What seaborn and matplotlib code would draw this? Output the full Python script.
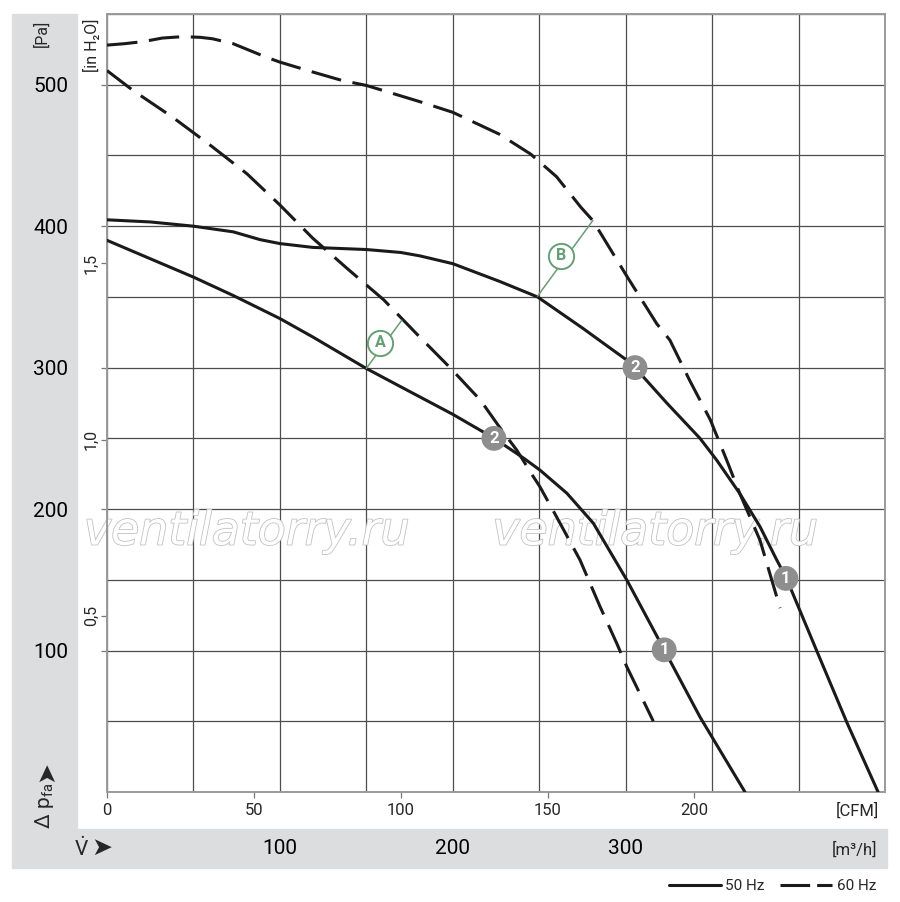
import numpy as np
import pandas as pd
import seaborn as sns
import matplotlib.pyplot as plt
import matplotlib.patheffects as pe
from matplotlib.lines import Line2D
from matplotlib.patches import Rectangle

# Curve values: flow in m3/h, static pressure in Pa
q50_hi = [0, 25, 50, 73, 88.5, 100, 119, 150, 170, 181, 200, 227, 249, 275, 301, 305.4, 324, 343,
          352.6, 366, 377.7, 387.4, 393, 411, 428, 446]
p50_hi = [404.5, 403, 400, 396, 390.5, 387.7, 385, 383.5, 381.4, 379, 373.5, 361, 350, 328, 305,
          300, 274.7, 250, 234.7, 211, 187.6, 164, 151, 98.4, 49, 0]

q50_lo = [0, 50, 73, 100, 119, 150, 170, 200, 224, 241, 250.4, 266, 281.3, 300.6, 312, 322.3, 343,
          369]
p50_lo = [390, 364, 351, 334.7, 321.7, 299.4, 286.4, 267, 250, 236, 227.6, 211.2, 190, 150, 124,
          100.5, 53, 0]

q60_hi = [0, 10, 21, 32, 44, 54, 61, 73, 92, 100, 119, 136, 150, 181, 200, 227, 245, 260, 274,
          281, 301, 318, 325.6, 337, 349, 358.4, 366, 377.7, 389.3]
p60_hi = [528, 529, 530.5, 533, 534, 533.5, 532.5, 529, 519.5, 516, 509, 503, 499.5, 488, 480.5,
          465, 451, 435, 413.5, 404, 364, 331, 319.4, 291, 263, 234.7, 211, 178, 130]

q60_lo = [0, 15, 38, 60, 81, 100, 119, 139, 160, 179, 198, 216, 227, 237, 246.6, 250.4, 260, 273.6,
          285.2, 294.8, 300.6, 316]
p60_lo = [510, 496, 477, 457, 437, 415, 391.5, 370, 348, 324, 300.5, 277, 258, 241.7, 222.9, 215.8,
          194.6, 164, 131, 105.2, 88.7, 50]

# operating points (grey badges)
badge_q = [305.4, 392.7, 223.8, 322.3]
badge_p = [300, 151, 250, 100.5]
badge_txt = ['2', '1', '2', '1']

# green callouts A / B: (start on 50 Hz curve, end on 60 Hz curve, circle centre)
callout_txt = ['A', 'B']
callout_q = [[150, 170.5], [249, 281]]
callout_p = [[299.5, 333.5], [350.5, 404]]
callout_cq = [158, 262.5]
callout_cp = [317.5, 379]

pa_ticks = [100, 200, 300, 400, 500]
m3h_ticks = [100, 200, 300]
cfm_ticks = [0, 50, 100, 150, 200]
inh2o_ticks = [0.5, 1.0, 1.5]
inh2o_labels = ['0,5', '1,0', '1,5']

sns.set_theme(style='white')
plt.rcParams['font.family'] = ['Roboto', 'DejaVu Sans']
plt.rcParams['mathtext.fontset'] = 'custom'
plt.rcParams['mathtext.rm'] = 'Roboto'
plt.rcParams['mathtext.it'] = 'Roboto'

W, H = 900, 902
fig = plt.figure(figsize=(9, 9.02), dpi=100, facecolor='white')

# grey bands on the left and bottom
band = '#dcdddf'
fig.add_artist(Rectangle((12 / W, 1 - 829 / H), 65 / W, 815 / H, transform=fig.transFigure,
                         color=band, zorder=0))
fig.add_artist(Rectangle((12 / W, 1 - 868 / H), 875 / W, 39 / H, transform=fig.transFigure,
                         color=band, zorder=0))

ax = fig.add_axes([107 / W, 1 - 792 / H, 778 / W, 778 / H])
ax.set_facecolor('white')

ink = '#1a1a1a'
dash = (0, (10, 3.8))
for q, p, ls in [(q50_hi, p50_hi, '-'), (q50_lo, p50_lo, '-'),
                 (q60_hi, p60_hi, dash), (q60_lo, p60_lo, dash)]:
    df = pd.DataFrame({'q': q, 'p': p})
    sns.lineplot(data=df, x='q', y='p', ax=ax, sort=False, estimator=None,
                 color=ink, lw=2.2, linestyle=ls, zorder=3)

# green callouts
green = '#63a072'
for txt, qq, pp, cq, cp in zip(callout_txt, callout_q, callout_p, callout_cq, callout_cp):
    ax.plot(qq, pp, color=green, lw=1.1, zorder=4)
    ax.scatter([cq], [cp], s=330, facecolor='white', edgecolor=green, linewidth=1.4, zorder=5)
    ax.text(cq, cp, txt, color=green, ha='center', va='center', fontsize=11.5,
            fontweight='bold', zorder=6)

# grey numbered badges
sns.scatterplot(x=badge_q, y=badge_p, ax=ax, s=320, color='#8e8e8e', edgecolor='none',
                zorder=6, legend=False)
for q, p, t in zip(badge_q, badge_p, badge_txt):
    ax.text(q, p, t, color='white', ha='center', va='center', fontsize=12,
            fontweight='bold', zorder=7)

# watermark
for xf in [0.180, 0.705]:
    ax.text(xf, 0.318, 'ventilatorry.ru', transform=ax.transAxes, ha='center', va='baseline',
            fontsize=33, style='italic', family='DejaVu Sans', color='white', zorder=2,
            path_effects=[pe.Stroke(linewidth=1.2, foreground='#c2c2c2'), pe.Normal()])

ax.set_xlim(0, 450)
ax.set_ylim(0, 550)
ax.set_xticks(m3h_ticks)
ax.set_xticks(np.arange(0, 451, 50), minor=True)
ax.set_yticks(pa_ticks)
ax.set_yticks(np.arange(0, 551, 50), minor=True)
ax.grid(which='both', color='#4d4d4d', lw=0.9)
ax.set_axisbelow(True)
ax.tick_params(axis='x', which='both', length=0, pad=34, labelsize=15, labelcolor='black')
ax.tick_params(axis='y', which='major', left=True, length=4, width=0.9, color='#777777',
               pad=24, labelsize=15, labelcolor='black')
ax.tick_params(axis='y', which='minor', left=False, length=0)
ax.set_xlabel('')
ax.set_ylabel('')
for s in ax.spines.values():
    s.set_color('#9a9a9a')
    s.set_linewidth(1.4)

# secondary scales: CFM and in H2O
sec_x = ax.secondary_xaxis('bottom', functions=(lambda v: v / 1.699, lambda v: v * 1.699))
sec_x.set_xticks(cfm_ticks)
sec_x.tick_params(length=4, width=0.9, color='#777777', pad=4, labelsize=12)
sec_x.spines['bottom'].set_visible(False)

sec_y = ax.secondary_yaxis('left', functions=(lambda v: v / 249.09, lambda v: v * 249.09))
sec_y.set_yticks(inh2o_ticks)
sec_y.set_yticklabels(inh2o_labels, rotation=90, va='center')
sec_y.tick_params(length=4, width=0.9, color='#777777', pad=2, labelsize=11.5)
sec_y.spines['left'].set_visible(False)

# unit labels and axis symbols
fig.text(42 / W, 1 - 33 / H, '[Pa]', rotation=90, ha='center', va='center', fontsize=11.5)
fig.text(91 / W, 1 - 45 / H, '[in H₂O]', rotation=90, ha='center', va='center', fontsize=11.5)
fig.text(879 / W, 1 - 811 / H, '[CFM]', ha='right', va='center', fontsize=12)
fig.text(877 / W, 1 - 850 / H, '[m³/h]', ha='right', va='center', fontsize=12)
fig.text(45 / W, 1 - 829 / H, r'$\Delta\ \mathrm{p}_{\mathrm{fa}}$', rotation=90,
         ha='center', va='bottom', fontsize=15)
fig.text(46 / W, 1 - 771 / H, '➤', rotation=90, ha='center', va='center', fontsize=18,
         family='DejaVu Sans')
fig.text(82 / W, 1 - 848 / H, r'$\dot{\mathrm{V}}$', ha='center', va='center', fontsize=15)
fig.text(102 / W, 1 - 848 / H, '➤', ha='center', va='center', fontsize=18, family='DejaVu Sans')

handles = [Line2D([], [], color=ink, lw=2.2),
           Line2D([], [], color=ink, lw=2.2, linestyle=(0, (9.7, 2.3)))]
fig.legend(handles, ['50 Hz', '60 Hz'], loc='center right', bbox_to_anchor=(876 / W, 1 - 886 / H),
           ncol=2, frameon=False, fontsize=11, handlelength=3.4, handletextpad=0.3,
           columnspacing=1.0, borderpad=0, borderaxespad=0)

fig.savefig('out.png', dpi=100, facecolor='white')
